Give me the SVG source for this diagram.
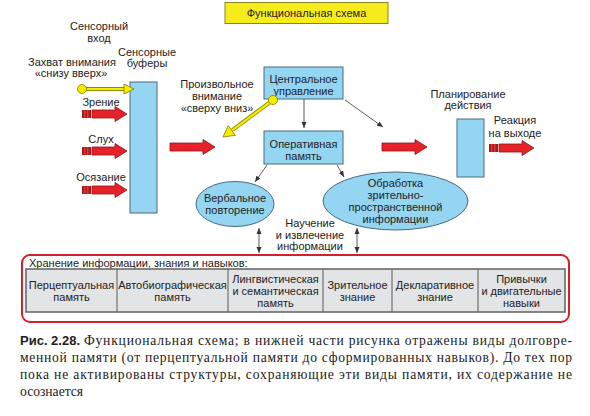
<svg xmlns="http://www.w3.org/2000/svg" width="590" height="416" viewBox="0 0 590 416">
<style>
text{font-family:"Liberation Sans",Arial,sans-serif;font-size:11px;fill:#222;text-anchor:middle}
.l{text-anchor:start}
.box{fill:#94d5f2;stroke:#4a6a80;stroke-width:1}
.thin{stroke:#333;stroke-width:0.8;fill:none}
.cap{font-family:"Liberation Serif","Times New Roman",serif;font-size:13.6px;text-anchor:start;fill:#222}
.capb{font-family:"Liberation Sans",Arial,sans-serif;font-weight:bold;font-size:13px;text-anchor:start;fill:#222}
.cell{fill:none;stroke:#707070;stroke-width:1.2}
</style>
<defs>
<marker id="ah" viewBox="0 0 6 6" refX="6" refY="3" markerWidth="6" markerHeight="6" orient="auto-start-reverse" markerUnits="userSpaceOnUse">
<path d="M0,0.5 L6,3 L0,5.5 Z" fill="#333"/>
</marker>
<path id="ra" d="M0,-4 H33 V-7.5 L45,0 L33,7.5 V4 H0 Z" fill="#e62129" stroke="#8e1616" stroke-width="0.8"/>
<g id="rs">
<path d="M10,-4 H33 V-7.5 L45,0 L33,7.5 V4 H10 Z" fill="#e62129" stroke="#8e1616" stroke-width="0.8"/>
<rect x="0" y="-4" width="9" height="8" fill="#a51a1a"/>
<rect x="2.2" y="-4" width="1.2" height="8" fill="#f04040"/>
<rect x="5.2" y="-4" width="1.2" height="8" fill="#f04040"/>
</g>
</defs>

<g id="title">
<rect x="225" y="2.5" width="163" height="21" fill="#f6ec1c" stroke="#8a8420" stroke-width="1"/>
<text x="306.5" y="17">Функциональная схема</text>
</g>

<g id="labels-left">
<text x="99" y="30">Сенсорный</text>
<text x="99" y="42">вход</text>
<text x="72" y="66">Захват внимания</text>
<text x="71" y="77">«снизу вверх»</text>
<text x="147" y="56">Сенсорные</text>
<text x="147" y="67">буферы</text>
<text x="101" y="106">Зрение</text>
<text x="101" y="143">Слух</text>
<text x="101" y="181">Осязание</text>
</g>

<g id="sensory-buffer">
<rect class="box" x="130" y="82" width="27" height="131"/>
</g>

<g id="central">
<rect class="box" x="264" y="67" width="79" height="32"/>
<text x="303.5" y="83">Центральное</text>
<text x="303.5" y="95">управление</text>
</g>

<g id="voluntary-label">
<text x="217" y="88">Произвольное</text>
<text x="217" y="100">внимание</text>
<text x="217" y="112">«сверху вниз»</text>
</g>

<g id="working-memory">
<rect class="box" x="264" y="131" width="79" height="33"/>
<text x="303.5" y="148">Оперативная</text>
<text x="303.5" y="160">память</text>
</g>

<g id="verbal">
<ellipse class="box" cx="235" cy="204" rx="39" ry="22.5"/>
<text x="235" y="202">Вербальное</text>
<text x="235" y="214">повторение</text>
</g>

<g id="visuospatial">
<ellipse class="box" cx="395.5" cy="201" rx="72.5" ry="29"/>
<text x="395.5" y="187">Обработка</text>
<text x="395.5" y="199">зрительно-</text>
<text x="395.5" y="211">пространственной</text>
<text x="395.5" y="223">информации</text>
</g>

<g id="learning-label">
<text x="310" y="227">Научение</text>
<text x="310" y="239">и извлечение</text>
<text x="310" y="250">информации</text>
</g>

<g id="planning">
<text x="468" y="98">Планирование</text>
<text x="468" y="109">действия</text>
<rect class="box" x="457" y="119" width="27" height="58"/>
</g>

<g id="output-label">
<text x="515" y="124">Реакция</text>
<text x="515" y="137">на выходе</text>
</g>

<g id="connectors">
<use href="#rs" x="82" y="114"/>
<use href="#rs" x="82" y="151"/>
<use href="#rs" x="82" y="190"/>
<use href="#ra" x="170" y="147"/>
<use href="#ra" x="382" y="147"/>
<use href="#rs" x="489" y="148"/>
<line x1="82" y1="89" x2="125" y2="89" stroke="#8f8a00" stroke-width="4"/>
<line x1="82" y1="89" x2="126" y2="89" stroke="#f5ec00" stroke-width="2.2"/>
<polygon points="124,84 134,89 124,94" fill="#f5ec00" stroke="#8f8a00" stroke-width="0.9"/>
<circle cx="82" cy="89" r="4.5" fill="#f5ec00" stroke="#8f8a00" stroke-width="0.9"/>
<line x1="273" y1="100" x2="232.5" y2="130" stroke="#8f8a00" stroke-width="4"/>
<line x1="273" y1="100" x2="231.5" y2="130.8" stroke="#f5ec00" stroke-width="2.2"/>
<polygon points="235.4,135.3 223,137 228.2,125.7" fill="#f5ec00" stroke="#8f8a00" stroke-width="0.9"/>
<circle cx="273" cy="100" r="4.5" fill="#f5ec00" stroke="#8f8a00" stroke-width="0.9"/>
<line class="thin" x1="304" y1="99" x2="304" y2="128" marker-end="url(#ah)"/>
<line class="thin" x1="345" y1="100" x2="383" y2="127" marker-end="url(#ah)"/>
<line class="thin" x1="267" y1="165" x2="255" y2="182" marker-end="url(#ah)"/>
<line class="thin" x1="337" y1="165" x2="344" y2="177" marker-end="url(#ah)"/>
<line class="thin" x1="259" y1="228" x2="259" y2="253" marker-start="url(#ah)" marker-end="url(#ah)"/>
<line class="thin" x1="357" y1="228" x2="357" y2="253" marker-start="url(#ah)" marker-end="url(#ah)"/>
</g>

<g id="storage">
<rect x="22" y="255" width="547" height="67" rx="8" fill="#fff" stroke="#d4202c" stroke-width="2"/>
<text class="l" x="29" y="267">Хранение информации, знания и навыков:</text>
<rect x="26" y="269" width="539" height="43" fill="#e3e4e6" stroke="#6a6a6a" stroke-width="1.6"/>
<line class="cell" x1="117" y1="269" x2="117" y2="312"/>
<line class="cell" x1="228" y1="269" x2="228" y2="312"/>
<line class="cell" x1="323" y1="269" x2="323" y2="312"/>
<line class="cell" x1="392" y1="269" x2="392" y2="312"/>
<line class="cell" x1="478" y1="269" x2="478" y2="312"/>
<text x="71.5" y="288.5">Перцептуальная</text>
<text x="71.5" y="300.5">память</text>
<text x="172.5" y="288.5">Автобиографическая</text>
<text x="172.5" y="300.5">память</text>
<text x="275.5" y="282.5">Лингвистическая</text>
<text x="275.5" y="294.5">и семантическая</text>
<text x="275.5" y="306.5">память</text>
<text x="357.5" y="288.5">Зрительное</text>
<text x="357.5" y="300.5">знание</text>
<text x="435" y="288.5">Декларативное</text>
<text x="435" y="300.5">знание</text>
<text x="521.5" y="282.5">Привычки</text>
<text x="521.5" y="294.5">и двигательные</text>
<text x="521.5" y="306.5">навыки</text>
</g>

<g id="caption">
<text class="capb" x="20" y="345">Рис. 2.28.</text>
<text class="cap" x="84" y="345" textLength="488" lengthAdjust="spacing">Функциональная схема; в нижней части рисунка отражены виды долговре-</text>
<text class="cap" x="20" y="362" textLength="552" lengthAdjust="spacing">менной памяти (от перцептуальной памяти до сформированных навыков). До тех пор</text>
<text class="cap" x="20" y="379" textLength="552" lengthAdjust="spacing">пока не активированы структуры, сохраняющие эти виды памяти, их содержание не</text>
<text class="cap" x="20" y="396">осознается</text>
</g>
</svg>
